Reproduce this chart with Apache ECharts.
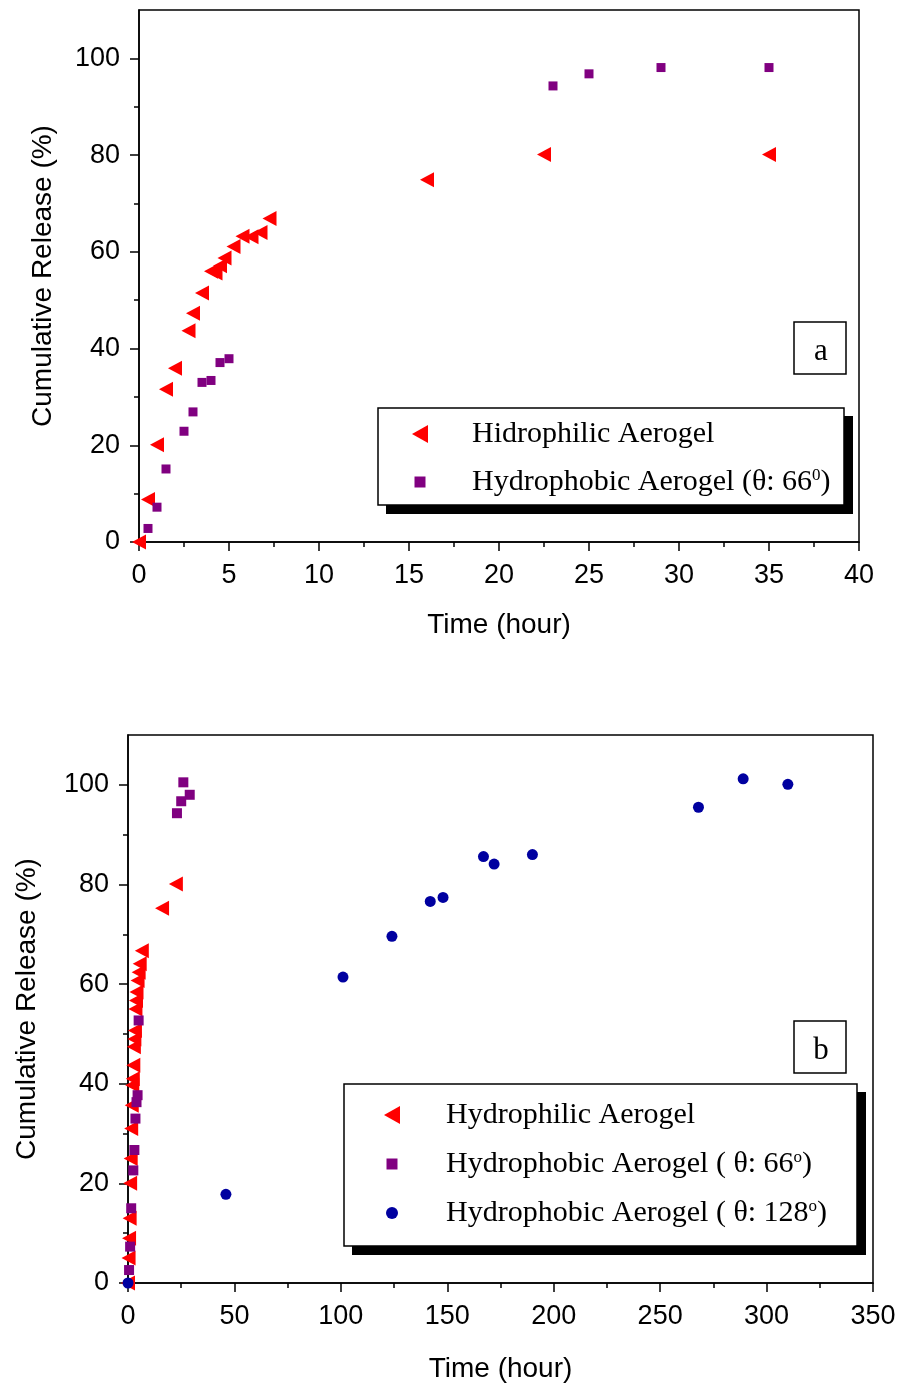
<!DOCTYPE html>
<html>
<head>
<meta charset="utf-8">
<script src="https://cdn.jsdelivr.net/npm/echarts@6/dist/echarts.min.js"></script>
<style>
html,body{margin:0;padding:0;background:#fff;}
#chart{width:902px;height:1387px;}
</style>
</head>
<body>
<div id="chart"></div>
<script>
// ---------- data: panel a ----------
const aHydrophilicX = [0, 0.5, 1, 1.5, 2, 2.75, 3, 3.5, 4, 4.25, 4.5, 4.75, 5.25, 5.75, 6.25, 6.75, 7.25, 16, 22.5, 35];
const aHydrophilicY = [0, 8.8, 20.1, 31.6, 35.9, 43.7, 47.3, 51.5, 56.0, 55.6, 57.1, 58.7, 61.1, 63.2, 63.1, 64.0, 66.9, 74.9, 80.1, 80.1];
const aHydrophobic66X = [0.5, 1, 1.5, 2.5, 3, 3.5, 4, 4.5, 5, 23, 25, 29, 35];
const aHydrophobic66Y = [2.8, 7.2, 15.1, 22.9, 26.9, 33.0, 33.4, 37.1, 37.9, 94.3, 96.8, 98.1, 98.1];

// ---------- data: panel b ----------
const bHydrophilicX = [0, 0.25, 0.5, 0.75, 1, 1.25, 1.5, 1.75, 2, 2.25, 2.5, 2.75, 3, 3.25, 3.5, 3.75, 4, 4.5, 5, 5.5, 6.5, 16, 22.5];
const bHydrophilicY = [0, 5.0, 9.0, 13.0, 20.0, 25.0, 31.0, 35.7, 39.7, 41.0, 43.7, 47.4, 49.0, 50.7, 55.0, 56.7, 58.4, 60.7, 62.4, 64.1, 66.7, 75.2, 80.1];
const bHydrophobic66X = [0.5, 1, 1.5, 2.5, 3, 3.5, 4, 4.5, 5, 23, 25, 26, 29];
const bHydrophobic66Y = [2.6, 7.3, 15.0, 22.6, 26.7, 33.0, 36.3, 37.7, 52.7, 94.3, 96.7, 100.5, 98.0];
const bHydrophobic128X = [0, 46, 101, 124, 142, 148, 167, 172, 190, 268, 289, 310];
const bHydrophobic128Y = [0, 17.8, 61.4, 69.6, 76.6, 77.4, 85.6, 84.1, 86.0, 95.5, 101.2, 100.1];

// ---------- ticks ----------
const aXTicks = [0, 5, 10, 15, 20, 25, 30, 35, 40];
const aXMinorTicks = [2.5, 7.5, 12.5, 17.5, 22.5, 27.5, 32.5, 37.5];
const bXTicks = [0, 50, 100, 150, 200, 250, 300, 350];
const bXMinorTicks = [25, 75, 125, 175, 225, 275, 325];
const yTicks = [0, 20, 40, 60, 80, 100];
const yMinorTicks = [10, 30, 50, 70, 90];

// ---------- names ----------
const aNames = ['Hidrophilic Aerogel', 'Hydrophobic Aerogel (θ: 66⁰)'];
const bNames = ['Hydrophilic Aerogel', 'Hydrophobic Aerogel ( θ: 66°)', 'Hydrophobic Aerogel ( θ: 128°)'];
const legendRich = {
  'Hidrophilic Aerogel': '{t|Hidrophilic Aerogel}',
  'Hydrophobic Aerogel (θ: 66⁰)': '{t|Hydrophobic Aerogel (θ: 66}{s|0}{t|)}',
  'Hydrophilic Aerogel': '{t|Hydrophilic Aerogel}',
  'Hydrophobic Aerogel ( θ: 66°)': '{t|Hydrophobic Aerogel ( θ: 66}{s|o}{t|)}',
  'Hydrophobic Aerogel ( θ: 128°)': '{t|Hydrophobic Aerogel ( θ: 128}{s|o}{t|)}'
};

const zip = (xs, ys) => xs.map((x, i) => [x, ys[i]]);

const RED = '#FF0000', PURPLE = '#800080', BLUE = '#0000A0';
const triLeft = 'path://M0,7 L14,0 L14,14 Z';
const legTri = 'path://M0,9 L16,0 L16,18 Z';
const legSq = 'path://M0,0 M18,18 M3.5,3.5 L14.5,3.5 L14.5,14.5 L3.5,14.5 Z';
const legCirc = 'path://M0,0 M18,18 M3,9 A6,6 0 1 1 15,9 A6,6 0 1 1 3,9 Z';

const sansLabel = {fontFamily: 'Liberation Sans', fontSize: 27, color: '#000'};
const nameStyle = {fontFamily: 'Liberation Sans', fontSize: 28, color: '#000'};

function mainX(grid, max, ticks, gap) {
  return {
    gridIndex: grid, type: 'value', min: 0, max: max, position: 'bottom',
    axisLine: {show: true, onZero: false, lineStyle: {color: '#000', width: 1.5}},
    axisTick: {show: true, inside: false, length: 9, lineStyle: {color: '#000', width: 1.5}, customValues: ticks},
    axisLabel: Object.assign({margin: 20, customValues: ticks}, sansLabel),
    splitLine: {show: false},
    name: 'Time (hour)', nameLocation: 'middle', nameGap: gap, nameTextStyle: nameStyle
  };
}
function minorX(grid, max, ticks) {
  return {
    gridIndex: grid, type: 'value', min: 0, max: max, position: 'bottom',
    axisLine: {show: false},
    axisTick: {show: true, inside: false, length: 5, lineStyle: {color: '#000', width: 1.5}, customValues: ticks},
    axisLabel: {show: false}, splitLine: {show: false}
  };
}
function mainY(grid, gap) {
  return {
    gridIndex: grid, type: 'value', min: 0, max: 110, position: 'left',
    axisLine: {show: true, onZero: false, lineStyle: {color: '#000', width: 1.5}},
    axisTick: {show: true, inside: false, length: 9, lineStyle: {color: '#000', width: 1.5}, customValues: yTicks},
    axisLabel: Object.assign({margin: 19, customValues: yTicks}, sansLabel),
    splitLine: {show: false},
    name: 'Cumulative Release (%)', nameLocation: 'middle', nameGap: gap, nameTextStyle: nameStyle
  };
}
function minorY(grid) {
  return {
    gridIndex: grid, type: 'value', min: 0, max: 110, position: 'left',
    axisLine: {show: false},
    axisTick: {show: true, inside: false, length: 5, lineStyle: {color: '#000', width: 1.5}, customValues: yMinorTicks},
    axisLabel: {show: false}, splitLine: {show: false}
  };
}

function legendText(padLeft) {
  return {
    color: '#000',
    padding: [0, 0, 0, padLeft],
    rich: {
      t: {fontFamily: 'Liberation Serif', fontSize: 30, color: '#000', lineHeight: 30},
      s: {fontFamily: 'Liberation Serif', fontSize: 17, color: '#000', verticalAlign: 'top', lineHeight: 17}
    }
  };
}

const chart = echarts.init(document.getElementById('chart'), null, {renderer: 'canvas'});
chart.setOption({
  animation: false,
  backgroundColor: '#fff',
  grid: [
    {left: 139, top: 10, width: 720, height: 532, show: true, borderColor: '#000', borderWidth: 1.5, backgroundColor: 'transparent'},
    {left: 128, top: 735, width: 745, height: 548, show: true, borderColor: '#000', borderWidth: 1.5, backgroundColor: 'transparent'}
  ],
  xAxis: [
    mainX(0, 40, aXTicks, 69), minorX(0, 40, aXMinorTicks),
    mainX(1, 350, bXTicks, 72), minorX(1, 350, bXMinorTicks)
  ],
  yAxis: [
    mainY(0, 82), minorY(0),
    mainY(1, 87), minorY(1)
  ],
  legend: [
    {
      data: [{name: aNames[0], icon: legTri}, {name: aNames[1], icon: legSq}],
      orient: 'vertical', left: 406, top: 414, itemWidth: 28, itemHeight: 18, itemGap: 18,
      z: 20, selectedMode: false, align: 'left',
      formatter: n => legendRich[n], textStyle: legendText(33)
    },
    {
      data: [{name: bNames[0], icon: legTri}, {name: bNames[1], icon: legSq}, {name: bNames[2], icon: legCirc}],
      orient: 'vertical', left: 378, top: 1095, itemWidth: 28, itemHeight: 18, itemGap: 19,
      z: 20, selectedMode: false, align: 'left',
      formatter: n => legendRich[n], textStyle: legendText(35)
    }
  ],
  graphic: [
    {type: 'rect', z: 5, shape: {x: 386, y: 416, width: 467, height: 98}, style: {fill: '#000'}},
    {type: 'rect', z: 6, shape: {x: 378, y: 408, width: 466, height: 97}, style: {fill: '#fff', stroke: '#000', lineWidth: 1.5}},
    {type: 'rect', z: 6, shape: {x: 794, y: 322, width: 52, height: 52}, style: {fill: '#fff', stroke: '#000', lineWidth: 1.5}},
    {type: 'text', z: 7, x: 821, y: 352, style: {text: 'a', fontFamily: 'Liberation Serif', fontSize: 31, fill: '#000', align: 'center', verticalAlign: 'middle'}},
    {type: 'rect', z: 5, shape: {x: 352, y: 1092, width: 514, height: 163}, style: {fill: '#000'}},
    {type: 'rect', z: 6, shape: {x: 344, y: 1084, width: 513, height: 162}, style: {fill: '#fff', stroke: '#000', lineWidth: 1.5}},
    {type: 'rect', z: 6, shape: {x: 794, y: 1021, width: 52, height: 52}, style: {fill: '#fff', stroke: '#000', lineWidth: 1.5}},
    {type: 'text', z: 7, x: 821, y: 1051, style: {text: 'b', fontFamily: 'Liberation Serif', fontSize: 31, fill: '#000', align: 'center', verticalAlign: 'middle'}}
  ],
  series: [
    {name: aNames[0], type: 'scatter', xAxisIndex: 0, yAxisIndex: 0, symbol: triLeft, symbolSize: [14, 15], itemStyle: {color: RED, opacity: 1}, data: zip(aHydrophilicX, aHydrophilicY)},
    {name: aNames[1], type: 'scatter', xAxisIndex: 0, yAxisIndex: 0, symbol: 'rect', symbolSize: 9, itemStyle: {color: PURPLE, opacity: 1}, data: zip(aHydrophobic66X, aHydrophobic66Y)},
    {name: bNames[0], type: 'scatter', xAxisIndex: 2, yAxisIndex: 2, symbol: triLeft, symbolSize: [14, 15], itemStyle: {color: RED, opacity: 1}, data: zip(bHydrophilicX, bHydrophilicY)},
    {name: bNames[1], type: 'scatter', xAxisIndex: 2, yAxisIndex: 2, symbol: 'rect', symbolSize: 10, itemStyle: {color: PURPLE, opacity: 1}, data: zip(bHydrophobic66X, bHydrophobic66Y)},
    {name: bNames[2], type: 'scatter', xAxisIndex: 2, yAxisIndex: 2, symbol: 'circle', symbolSize: 11, itemStyle: {color: BLUE, opacity: 1}, data: zip(bHydrophobic128X, bHydrophobic128Y)}
  ]
});
</script>
</body>
</html>
